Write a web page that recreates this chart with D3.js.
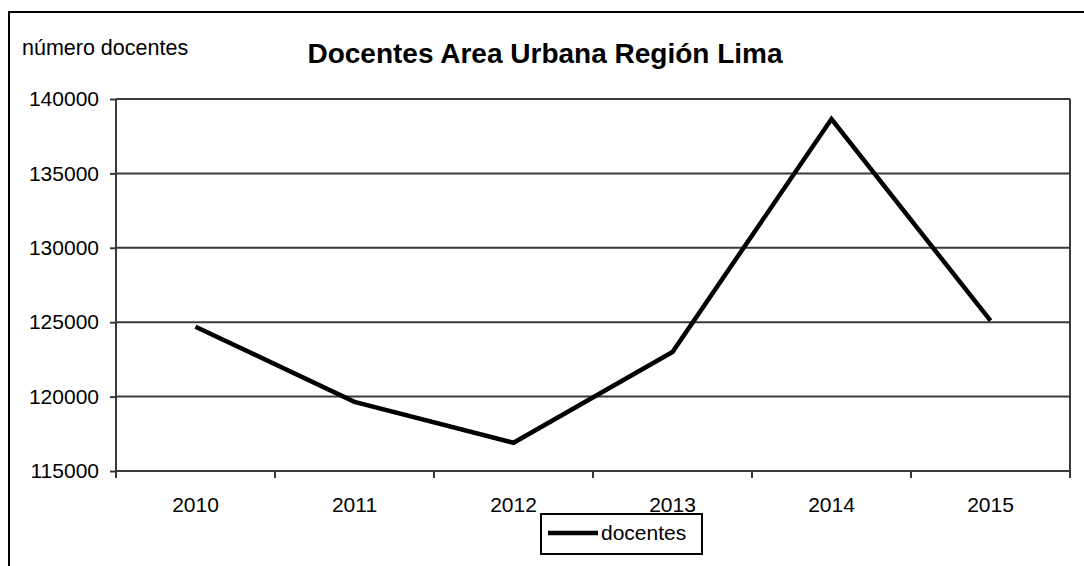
<!DOCTYPE html>
<html>
<head>
<meta charset="utf-8">
<script src="https://cdn.jsdelivr.net/npm/d3@7"></script>
<style>
  body { margin: 0; background: #fff; }
  svg text { font-family: "Liberation Sans", Arial, sans-serif; fill: #000; }
</style>
</head>
<body>
<svg id="chart" width="1084" height="566"></svg>
<script>
let years = ['2010', '2011', '2012', '2013', '2014', '2015'];
let docentes = [124700, 119650, 116900, 123000, 138650, 125100];
let yTicks = [115000, 120000, 125000, 130000, 135000, 140000];

let margin = { top: 99, right: 14, bottom: 95, left: 116 };
let width = 1084 - margin.left - margin.right;
let height = 566 - margin.top - margin.bottom;

let svg = d3.select('#chart');

// outer frame (only top and left visible)
svg.append('path')
  .attr('d', 'M9,566 V12 H1084')
  .attr('fill', 'none')
  .attr('stroke', '#000')
  .attr('stroke-width', 2);

svg.append('text')
  .attr('x', 22)
  .attr('y', 55)
  .style('font-size', '21.5px')
  .text('número docentes');

svg.append('text')
  .attr('x', 545)
  .attr('y', 63)
  .attr('text-anchor', 'middle')
  .style('font-size', '28px')
  .style('font-weight', 'bold')
  .text('Docentes Area Urbana Región Lima');

let g = svg.append('g')
  .attr('transform', 'translate(' + margin.left + ',' + margin.top + ')');

let x = d3.scaleBand().domain(years).range([0, width]).padding(0);
let y = d3.scaleLinear().domain([115000, 140000]).range([height, 0]);

// horizontal gridlines
g.append('g')
  .selectAll('line')
  .data(yTicks)
  .enter()
  .append('line')
  .attr('x1', 0)
  .attr('x2', width)
  .attr('y1', d => y(d))
  .attr('y2', d => y(d))
  .attr('stroke', '#3a3a3a')
  .attr('stroke-width', 2);

// y axis
let yAxis = g.append('g')
  .call(d3.axisLeft(y).tickValues(yTicks).tickSize(6).tickPadding(11).tickFormat(d3.format('d')));
yAxis.select('.domain').attr('stroke', '#3a3a3a').attr('stroke-width', 2).attr('d', 'M0,0 V' + (height + 7));
yAxis.selectAll('.tick line').attr('stroke', '#3a3a3a').attr('stroke-width', 2);
yAxis.selectAll('.tick text').style('font-size', '21px').attr('fill', '#000')
  .style('font-family', '"Liberation Sans", Arial, sans-serif');

// right edge
g.append('line')
  .attr('x1', width).attr('x2', width)
  .attr('y1', 0).attr('y2', height + 7)
  .attr('stroke', '#3a3a3a')
  .attr('stroke-width', 2);

// x axis labels
let xAxis = g.append('g')
  .attr('transform', 'translate(0,' + height + ')')
  .call(d3.axisBottom(x).tickSize(0).tickPadding(26));
xAxis.select('.domain').remove();
xAxis.selectAll('.tick text').style('font-size', '21px').attr('fill', '#000')
  .style('font-family', '"Liberation Sans", Arial, sans-serif');

// x ticks at category boundaries
g.append('g')
  .selectAll('line')
  .data(years.slice(1))
  .enter()
  .append('line')
  .attr('x1', d => x(d))
  .attr('x2', d => x(d))
  .attr('y1', height)
  .attr('y2', height + 7)
  .attr('stroke', '#3a3a3a')
  .attr('stroke-width', 2);

// data line
let line = d3.line()
  .x((d, i) => x(years[i]) + x.bandwidth() / 2)
  .y(d => y(d));

g.append('path')
  .datum(docentes)
  .attr('fill', 'none')
  .attr('stroke', '#000')
  .attr('stroke-width', 4.5)
  .attr('stroke-linejoin', 'miter')
  .attr('d', line);

// legend
let legend = svg.append('g').attr('transform', 'translate(541,514)');
legend.append('rect')
  .attr('width', 161)
  .attr('height', 40)
  .attr('fill', '#fff')
  .attr('stroke', '#000')
  .attr('stroke-width', 2);
legend.append('line')
  .attr('x1', 7).attr('x2', 57)
  .attr('y1', 19).attr('y2', 19)
  .attr('stroke', '#000')
  .attr('stroke-width', 4.5);
legend.append('text')
  .attr('x', 60)
  .attr('y', 26)
  .style('font-size', '21px')
  .text('docentes');
</script>
</body>
</html>
